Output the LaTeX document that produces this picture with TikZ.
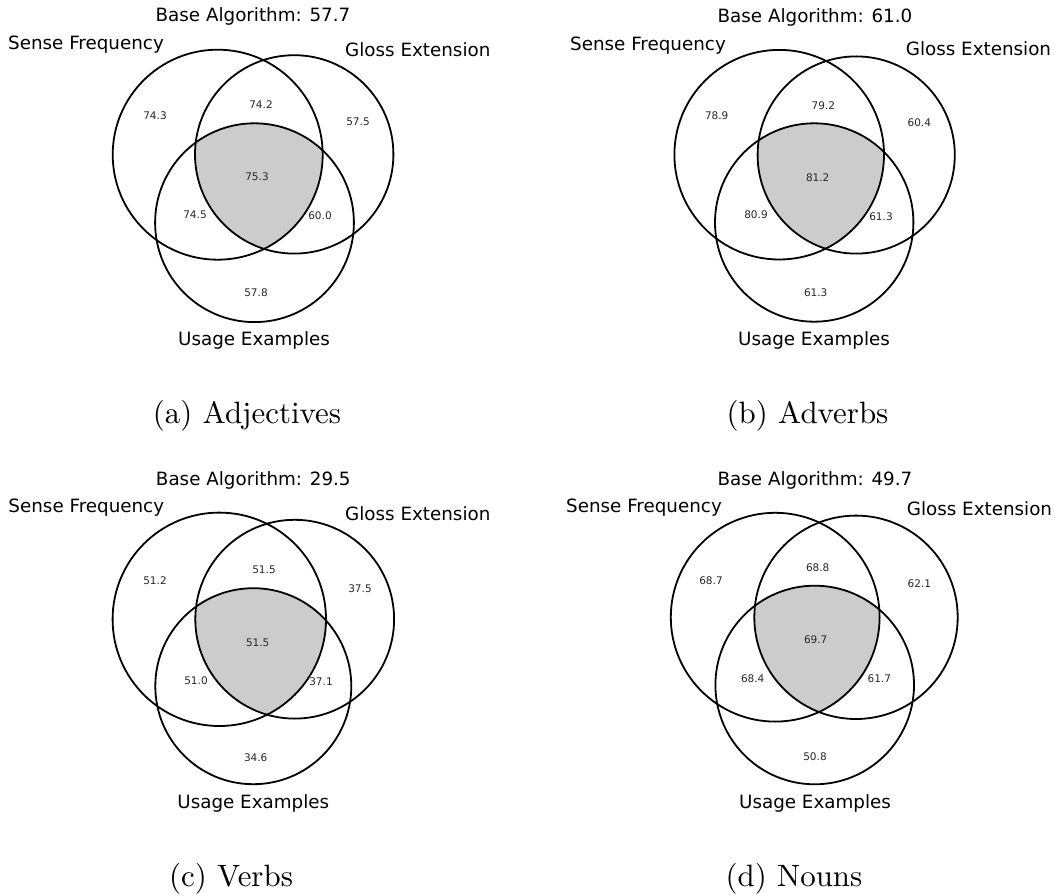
\documentclass[tikz,border=0pt]{standalone}
\usepackage{fontspec}
\newfontfamily\dvs{DejaVu Sans}
\newfontfamily\capfont{lmroman10-regular}[Extension=.otf]
\definecolor{venngray}{HTML}{CCCCCC}
\definecolor{numtext}{HTML}{262626}
\begin{document}
\begin{tikzpicture}[x=1pt,y=-1pt,
  ring/.style={draw=black,line width=1.8pt},
  core/.style={fill=venngray},
  lbl/.style={font=\dvs\fontsize{18.3}{22}\selectfont,inner sep=0pt},
  num/.style={font=\dvs\fontsize{10.5}{12}\selectfont,inner sep=0pt,text=numtext},
  subcap/.style={font=\capfont\fontsize{30.9}{36}\selectfont,inner sep=0pt,anchor=base}]
\useasboundingbox (0,0) rectangle (1055,896);

% ---------- (a) Adjectives ----------
\begin{scope}
  \clip (217.7,154.7) circle[radius=105pt];
  \clip (294.2,154.4) circle[radius=99.2pt];
  \fill[core] (254.5,222.7) circle[radius=99.4pt];
\end{scope}
\draw[ring] (217.7,154.7) circle[radius=105pt];
\draw[ring] (294.2,154.4) circle[radius=99.2pt];
\draw[ring] (254.5,222.7) circle[radius=99.4pt];
\node[lbl,anchor=base] (aBase) at (253,22) {Base Algorithm: 57.7};
\node[lbl,anchor=base west] (aSF) at (8,50) {Sense Frequency};
\node[lbl,anchor=base west] (aGE) at (345,56.7) {Gloss Extension};
\node[lbl,anchor=base] (aUE) at (254,345) {Usage Examples};
\node[num] (a1) at (155,116) {74.3};
\node[num] (a2) at (261,105) {74.2};
\node[num] (a3) at (358,122) {57.5};
\node[num] (a4) at (257,177) {75.3};
\node[num] (a5) at (195,215) {74.5};
\node[num] (a6) at (320,216) {60.0};
\node[num] (a7) at (256,293) {57.8};
\node[subcap] (aCap) at (247,423) {(a) Adjectives};

% ---------- (b) Adverbs ----------
\begin{scope}
  \clip (779.2,154.7) circle[radius=104.8pt];
  \clip (856.2,155) circle[radius=98.6pt];
  \fill[core] (814.2,222.5) circle[radius=99.2pt];
\end{scope}
\draw[ring] (779.2,154.7) circle[radius=104.8pt];
\draw[ring] (856.2,155) circle[radius=98.6pt];
\draw[ring] (814.2,222.5) circle[radius=99.2pt];
\node[lbl,anchor=base] (bBase) at (815,22.4) {Base Algorithm: 61.0};
\node[lbl,anchor=base west] (bSF) at (570,50.7) {Sense Frequency};
\node[lbl,anchor=base west] (bGE) at (905.7,55.7) {Gloss Extension};
\node[lbl,anchor=base] (bUE) at (814,345.7) {Usage Examples};
\node[num] (b1) at (716.7,116) {78.9};
\node[num] (b2) at (823.3,106) {79.2};
\node[num] (b3) at (919.3,123) {60.4};
\node[num] (b4) at (817.7,178) {81.2};
\node[num] (b5) at (756,215) {80.9};
\node[num] (b6) at (881,217) {61.3};
\node[num] (b7) at (815.7,293) {61.3};
\node[subcap] (bCap) at (807.5,423) {(b) Adverbs};

% ---------- (c) Verbs ----------
\begin{scope}
  \clip (219.3,619.3) circle[radius=106.7pt];
  \clip (294.7,619.2) circle[radius=99.4pt];
  \fill[core] (253.3,686.2) circle[radius=98pt];
\end{scope}
\draw[ring] (219.3,619.3) circle[radius=106.7pt];
\draw[ring] (294.7,619.2) circle[radius=99.4pt];
\draw[ring] (253.3,686.2) circle[radius=98pt];
\node[lbl,anchor=base] (cBase) at (253.3,485) {Base Algorithm: 29.5};
\node[lbl,anchor=base west] (cSF) at (8.3,512.7) {Sense Frequency};
\node[lbl,anchor=base west] (cGE) at (345,520) {Gloss Extension};
\node[lbl,anchor=base] (cUE) at (253.3,808.4) {Usage Examples};
\node[num] (c1) at (155,580.7) {51.2};
\node[num] (c2) at (264,570) {51.5};
\node[num] (c3) at (360,588.3) {37.5};
\node[num] (c4) at (257.7,642.3) {51.5};
\node[num] (c5) at (196,680.7) {51.0};
\node[num] (c6) at (321,681.7) {37.1};
\node[num] (c7) at (255.7,757.7) {34.6};
\node[subcap] (cCap) at (231,886) {(c) Verbs};

% ---------- (d) Nouns ----------
\begin{scope}
  \clip (775.2,617.2) circle[radius=104.4pt];
  \clip (856,617.3) circle[radius=101.7pt];
  \fill[core] (814.7,685) circle[radius=99.3pt];
\end{scope}
\draw[ring] (775.2,617.2) circle[radius=104.4pt];
\draw[ring] (856,617.3) circle[radius=101.7pt];
\draw[ring] (814.7,685) circle[radius=99.3pt];
\node[lbl,anchor=base] (dBase) at (815,485) {Base Algorithm: 49.7};
\node[lbl,anchor=base west] (dSF) at (566,512.7) {Sense Frequency};
\node[lbl,anchor=base west] (dGE) at (906.7,515) {Gloss Extension};
\node[lbl,anchor=base] (dUE) at (815,808.4) {Usage Examples};
\node[num] (d1) at (711,581) {68.7};
\node[num] (d2) at (817.7,567.3) {68.8};
\node[num] (d3) at (919.3,584) {62.1};
\node[num] (d4) at (815.7,640) {69.7};
\node[num] (d5) at (752.7,678.3) {68.4};
\node[num] (d6) at (879.3,678.3) {61.7};
\node[num] (d7) at (815,756.7) {50.8};
\node[subcap] (dCap) at (794,886) {(d) Nouns};
\end{tikzpicture}
\end{document}
